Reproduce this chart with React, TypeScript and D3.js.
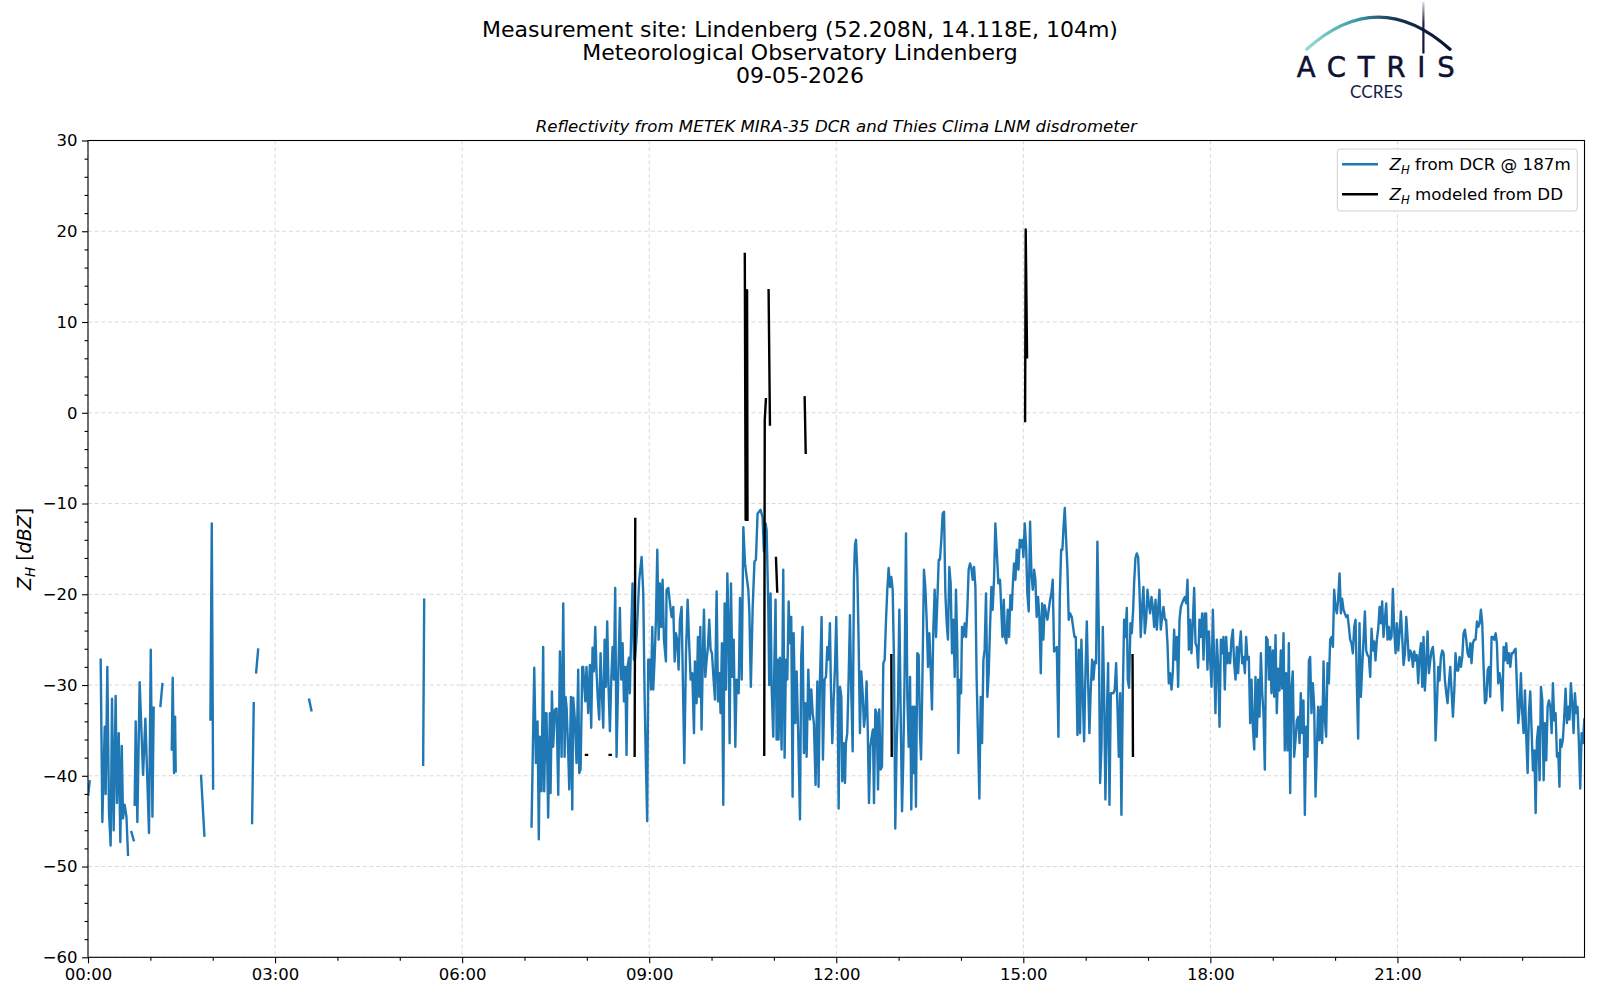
import React, { useEffect, useRef } from 'react';
import * as d3 from 'd3';

type Pt = [number, number | null];

// [minutes after 00:00, dBZ]; a null value breaks the line
const dcrNight: Pt[] = [
  [0.2, -42.1], [1.6, -40.6], [2, null],
  [12.2, -27.2], [13.8, -45.1], [16.1, -34.6], [17.0, -42.0], [18.6, -28.0], [20.2, -44.0], [21.8, -47.7],
  [23.1, -31.5], [24.7, -46.0], [26.6, -31.2], [27.9, -43.0], [29.6, -35.3], [31.1, -47.3], [32.5, -36.7],
  [33.7, -44.7], [35.3, -43.2], [37.0, -44.5], [38.5, -48.7], [39, null],
  [41.8, -46.2], [44.0, -47.1], [44.5, null],
  [44.9, -43.2], [45.9, -34.0], [47.5, -45.1], [49.7, -29.7], [53.0, -39.9], [55.2, -33.7], [58.7, -46.3],
  [60.4, -26.1], [62.0, -44.5], [63.2, -32.5], [64, null],
  [69.7, -32.3], [71.6, -29.9], [72, null],
  [80.6, -37.1], [81.5, -29.2], [82.8, -39.7], [83.8, -33.5], [84.4, -39.5], [85, null],
  [108.8, -40.0], [112.0, -46.6], [113, null],
  [117.8, -33.8], [119.1, -12.2], [120.4, -41.4], [121, null],
  [157.9, -45.2], [159.5, -32.0], [160, null],
  [161.8, -28.6], [163.7, -26.1], [164, null],
  [212.8, -31.6], [215.0, -32.8], [216, null],
  [322.5, -38.8], [323.5, -20.6], [324, null],
];

const dcrMorning: Pt[] = [
  [426.8, -45.6], [429.4, -28.1], [431.0, -38.6], [432.6, -34.0], [433.8, -47.0], [434.8, -35.7], [436.4, -41.7],
  [438.0, -25.8], [439.0, -41.7], [440.3, -33.1], [441.2, -33.1], [442.8, -44.6], [444.4, -33.1], [445.1, -41.9],
  [446.4, -30.7], [447.6, -36.8], [449.3, -32.7], [450.9, -32.6], [452.5, -42.1], [454.1, -26.3], [455.7, -37.9],
  [457.3, -21.0], [458.6, -37.9], [459.5, -31.3], [460.5, -32.4], [462.1, -37.5], [463.1, -41.5], [464.7, -31.3],
  [466.0, -43.7], [466.9, -31.4], [468.5, -33.8], [470.1, -38.6], [471.7, -28.3], [472.7, -39.7], [474.0, -39.3],
  [475.6, -28.0], [476.5, -28.0], [478.5, -31.8], [479.7, -28.0], [481.3, -33.1], [482.9, -27.8], [484.2, -34.7],
  [485.5, -25.9], [486.8, -28.5], [488.1, -23.6], [489.4, -28.7], [490.6, -31.6], [491.9, -33.8], [493.2, -26.5],
  [494.5, -30.9], [495.8, -34.7], [497.1, -25.0], [498.3, -30.2], [499.6, -23.0], [500.9, -30.2], [502.2, -35.1],
  [503.5, -29.4], [504.8, -25.8], [506.0, -29.4], [507.3, -19.3], [508.6, -37.9], [510.2, -29.1], [511.8, -21.5],
  [513.1, -29.4], [514.4, -25.4], [515.7, -31.8], [517.0, -28.0], [518.2, -37.7], [519.2, -28.0], [520.5, -27.0],
  [521.4, -30.9], [522.7, -24.1], [524.0, -18.8], [525.3, -27.2], [526.3, -27.2], [527.9, -24.7], [529.2, -21.4],
  [530.4, -18.4], [532.7, -15.9], [534.3, -19.9], [535.6, -31.3], [536.9, -39.0], [538.1, -45.0], [539.1, -27.2],
  [540.7, -27.2], [541.7, -30.5], [543.0, -23.6], [543.9, -30.5], [545.2, -27.2], [546.5, -22.8], [547.8, -15.1],
  [549.1, -25.0], [550.3, -18.8], [551.6, -23.6], [552.9, -18.4], [554.2, -25.0], [556.1, -27.4], [556.7, -19.5],
  [558.4, -19.3], [560.0, -21.0], [561.6, -22.5], [563.2, -21.4], [564.5, -27.4], [565.7, -24.3], [567.0, -25.0],
  [568.3, -28.3], [569.6, -22.8], [571.2, -21.4], [572.5, -30.2], [573.8, -38.6], [575.4, -26.5], [577.0, -20.6],
  [578.6, -25.8], [579.9, -29.4], [581.5, -28.7], [583.1, -35.3], [584.0, -27.4], [585.6, -32.0], [586.9, -24.7],
  [588.2, -31.3], [589.2, -23.6], [590.4, -34.9], [591.7, -26.5], [592.7, -21.7], [594.0, -29.1], [595.3, -27.2],
  [596.5, -25.8], [597.8, -22.8], [599.1, -26.1], [600.4, -26.5], [602.0, -29.4], [603.3, -31.6], [604.9, -19.7],
  [606.2, -31.8], [607.5, -28.7], [608.7, -33.1], [610.0, -25.4], [611.3, -43.2], [612.6, -21.0], [613.9, -30.5],
  [615.2, -17.7], [616.4, -23.6], [617.4, -36.4], [618.7, -18.8], [620.0, -29.1], [621.3, -25.0], [622.9, -36.8],
  [624.1, -29.4], [626.1, -30.9], [627.4, -20.4], [629.0, -29.4], [630.6, -12.6], [632.2, -16.6], [633.8, -18.1],
  [635.4, -19.5], [636.4, -22.0], [637.8, -30.2], [639.6, -21.4], [641.3, -16.4], [642.7, -16.2], [644.3, -11.1],
];

const dcrMidday: Pt[] = [
  [647.2, -10.7], [649.1, -11.5], [650.4, -15.3], [652.0, -12.2], [653.0, -12.9], [654.6, -21.4], [655.5, -30.0],
  [656.8, -19.9], [657.8, -30.2], [659.4, -35.7], [660.4, -28.0], [661.6, -20.6], [662.6, -36.0], [663.6, -27.2],
  [664.5, -36.0], [665.8, -27.0], [667.4, -37.1], [669.0, -17.3], [670.3, -38.0], [671.6, -27.2], [672.9, -29.4],
  [674.2, -20.8], [675.4, -25.4], [676.7, -22.5], [678.0, -42.3], [679.0, -24.3], [680.6, -34.2], [681.9, -28.5],
  [683.5, -36.0], [685.1, -44.8], [686.3, -26.9], [687.6, -23.6], [688.9, -37.5], [690.2, -32.0], [691.5, -37.9],
  [693.1, -28.3], [694.7, -33.8], [696.0, -30.5], [697.3, -33.1], [698.5, -34.2], [700.1, -41.0], [701.8, -29.6],
  [703.0, -41.2], [704.3, -29.6], [705.9, -22.5], [707.2, -38.2], [708.8, -29.4], [710.1, -29.1], [711.4, -25.8],
  [712.7, -27.2], [713.9, -23.2], [714.9, -30.5], [716.2, -36.4], [717.5, -31.6], [718.8, -28.0], [720.0, -22.5],
  [721.3, -30.5], [722.3, -43.6], [723.6, -30.2], [724.9, -31.3], [725.8, -40.6], [727.1, -36.4], [728.4, -40.8],
  [729.3, -36.4], [730.6, -35.3], [731.9, -29.4], [733.2, -22.3], [734.5, -30.9], [735.8, -37.3], [737.0, -18.4],
  [738.0, -14.6], [739.0, -14.0], [740.3, -17.7], [741.5, -25.0], [742.8, -35.3], [744.1, -28.5], [745.4, -30.9],
  [746.7, -34.6], [748.0, -33.1], [749.2, -29.6], [750.2, -34.2], [751.5, -43.0], [752.8, -36.8], [754.1, -35.7],
  [755.3, -34.9], [756.3, -43.0], [757.6, -32.7], [758.9, -33.1], [760.2, -41.5], [761.4, -32.7], [762.7, -39.3],
  [764.0, -39.0], [765.3, -27.6], [766.6, -27.2], [767.9, -22.8], [769.1, -19.5], [770.4, -17.1], [771.7, -19.2],
  [773.0, -18.1], [774.3, -19.5], [775.6, -27.6], [776.8, -45.8], [778.1, -36.8], [779.4, -31.8], [780.7, -21.7],
  [782.0, -33.1], [783.3, -43.9], [784.5, -38.2], [785.8, -28.7], [787.1, -13.3], [788.4, -31.3], [789.7, -36.8],
  [791.0, -29.1], [792.2, -43.7], [793.5, -32.4], [794.5, -39.7], [795.5, -32.4], [796.7, -43.4], [798.0, -26.5],
  [799.3, -26.7], [800.6, -35.3], [801.6, -38.2], [802.8, -30.2], [804.4, -17.3], [805.7, -19.2], [807.0, -22.8],
  [808.3, -28.0], [809.6, -24.3], [810.9, -28.3], [812.1, -32.7], [813.4, -23.9], [814.7, -19.5], [816.0, -24.7],
  [817.3, -20.6], [818.6, -16.2], [819.8, -16.2], [821.1, -14.0], [822.4, -11.1], [823.7, -10.9], [825.0, -19.9],
  [826.3, -23.2], [827.5, -25.0], [828.8, -17.0], [830.1, -18.8], [831.4, -26.5], [832.7, -22.8], [834.0, -29.1],
  [835.2, -19.5], [836.5, -25.8], [837.5, -37.5], [838.8, -29.4], [840.1, -30.9], [841.0, -23.6], [842.3, -24.7],
  [843.6, -23.2], [844.9, -24.7], [846.2, -21.4], [847.4, -17.3], [848.7, -16.6], [850.0, -17.1], [851.3, -18.4],
  [852.6, -17.0], [853.9, -19.2], [855.1, -29.4], [856.4, -35.7], [857.7, -42.5], [859.0, -31.3], [860.3, -36.4],
  [861.6, -27.2], [862.8, -26.1], [864.1, -19.9], [865.4, -31.3], [866.7, -28.7], [868.0, -23.6], [869.3, -19.2],
  [870.5, -21.7], [871.8, -18.4], [873.1, -12.2], [874.4, -15.1], [876.0, -18.8], [877.6, -18.4],
];

const dcrAfternoon: Pt[] = [
  [879.9, -24.7], [881.2, -20.6], [882.4, -24.7], [883.7, -25.4], [885.0, -21.7], [886.3, -24.7], [887.6, -20.1],
  [888.9, -21.7], [889.8, -19.2], [891.1, -16.6], [892.4, -18.4], [893.7, -15.1], [895.3, -17.3], [896.6, -14.0],
  [897.8, -14.8], [899.1, -14.0], [900.1, -15.9], [901.4, -12.2], [902.7, -14.8], [903.9, -19.9], [905.2, -21.9],
  [906.5, -12.0], [907.8, -17.7], [909.1, -19.5], [910.4, -17.3], [911.6, -18.4], [912.9, -22.5], [914.2, -20.3],
  [915.5, -22.5], [916.8, -28.7], [918.1, -21.0], [919.3, -25.0], [920.6, -21.2], [921.9, -22.1], [923.2, -22.8],
  [924.5, -21.7], [925.8, -20.6], [927.0, -19.9], [928.3, -18.4], [929.6, -26.3], [930.9, -26.1], [932.2, -25.8],
  [933.8, -35.7], [935.1, -20.3], [936.4, -15.1], [937.6, -15.1], [938.9, -12.2], [939.9, -10.5], [941.2, -14.0],
  [942.4, -17.0], [943.7, -22.8], [945.0, -22.1], [946.6, -22.5], [947.9, -23.6], [949.2, -24.7], [950.5, -24.7],
  [952.1, -35.5], [953.4, -26.1], [954.6, -35.3], [955.9, -25.0], [957.2, -30.9], [958.5, -36.2], [959.8, -28.7],
  [961.1, -23.0], [962.3, -29.4], [963.6, -35.3], [964.9, -30.5], [966.2, -27.2], [967.5, -29.4], [968.8, -27.4],
  [970.0, -27.6], [971.3, -14.2], [972.6, -23.6], [973.9, -40.8], [975.2, -36.8], [976.5, -23.6], [977.7, -30.5],
  [979.0, -42.6], [980.3, -33.8], [981.6, -27.6], [982.9, -43.2], [984.2, -30.9], [985.4, -30.9], [986.7, -30.9],
  [988.0, -30.5], [989.3, -27.6], [990.6, -32.4], [991.9, -37.9], [993.2, -30.9], [994.4, -44.3], [995.7, -31.3],
  [997.0, -22.8], [998.3, -24.7], [999.6, -21.5], [1000.5, -29.4], [1001.8, -30.3], [1003.1, -23.2], [1004.4, -24.3],
  [1005.7, -21.7], [1006.6, -18.8], [1007.9, -16.0], [1009.2, -15.5], [1010.5, -15.9], [1011.8, -19.5], [1013.0, -24.7],
  [1014.3, -21.4], [1015.6, -19.2], [1016.9, -24.3], [1018.2, -22.8], [1019.5, -19.5], [1020.7, -21.0], [1022.0, -22.1],
  [1023.3, -20.3], [1024.6, -21.4], [1025.9, -23.6], [1027.2, -20.6], [1028.5, -23.9], [1029.7, -21.7], [1031.0, -19.5],
  [1032.3, -23.9], [1033.6, -22.5], [1034.9, -21.4], [1036.2, -22.8], [1037.4, -22.8], [1038.7, -25.4], [1040.0, -29.8],
  [1041.3, -28.7], [1042.6, -30.5], [1043.9, -28.5], [1045.1, -23.9], [1046.4, -27.2], [1047.7, -24.7], [1049.0, -30.2],
  [1050.3, -22.8], [1051.6, -21.4], [1052.8, -21.0], [1054.1, -20.6], [1055.4, -20.3], [1056.7, -21.0], [1058.0, -18.4],
  [1059.3, -26.1], [1060.5, -22.8], [1061.8, -26.5], [1063.1, -23.2], [1064.4, -19.3], [1065.7, -25.4], [1067.0, -25.8],
  [1068.2, -28.1], [1069.5, -22.8], [1070.8, -24.7], [1072.1, -22.1], [1073.4, -27.2], [1074.7, -22.1], [1075.9, -22.1],
  [1077.2, -28.3], [1078.5, -24.1], [1079.8, -27.2], [1081.1, -30.2], [1082.4, -21.7], [1083.6, -27.2], [1084.9, -33.1],
  [1086.2, -25.0], [1087.5, -28.0], [1088.8, -34.6], [1090.1, -25.0], [1091.3, -26.5], [1092.6, -24.7], [1093.9, -30.5],
  [1095.2, -24.7], [1096.5, -27.6], [1097.8, -26.5], [1099.0, -27.6], [1100.3, -25.0], [1101.6, -23.9], [1102.9, -27.6],
  [1104.2, -29.4], [1105.5, -25.8], [1106.7, -28.7], [1108.0, -25.8], [1109.3, -24.1], [1110.6, -27.6], [1111.9, -26.9],
  [1113.2, -28.7], [1114.4, -24.7], [1115.7, -27.2], [1117.0, -26.9], [1118.3, -34.2], [1119.6, -29.4], [1120.9, -34.6],
  [1122.2, -37.1], [1123.4, -29.1], [1124.7, -35.7], [1126.0, -29.4], [1127.3, -33.5], [1128.6, -26.5], [1129.9, -30.9],
  [1131.1, -33.1], [1132.4, -39.3], [1133.7, -24.7], [1135.0, -25.0], [1136.3, -29.4],
];

const dcrEvening: Pt[] = [
  [1137.5, -25.8], [1138.8, -30.9], [1140.1, -26.2], [1141.4, -31.3], [1142.7, -24.5], [1143.9, -33.1], [1145.2, -28.2],
  [1146.5, -30.6], [1147.8, -26.2], [1149.1, -30.4], [1150.4, -24.3], [1151.6, -37.2], [1152.9, -28.7], [1154.2, -37.2],
  [1155.5, -25.4], [1156.8, -41.9], [1158.1, -30.2], [1159.3, -28.5], [1160.6, -37.9], [1161.9, -36.1], [1163.2, -33.9],
  [1164.5, -33.5], [1165.8, -36.4], [1167.0, -30.9], [1168.3, -35.3], [1169.6, -31.7], [1170.9, -44.3], [1172.2, -34.6],
  [1173.5, -37.9], [1174.8, -27.3], [1176.0, -26.9], [1177.3, -33.1], [1178.6, -29.8], [1179.9, -32.4], [1181.2, -42.3],
  [1182.5, -36.8], [1183.7, -32.4], [1185.0, -36.1], [1186.3, -32.4], [1187.6, -36.4], [1188.9, -27.4], [1190.2, -33.9],
  [1191.4, -35.7], [1192.7, -27.6], [1194.0, -29.8], [1195.3, -25.0], [1196.6, -24.7], [1197.9, -25.8], [1199.1, -19.5],
  [1200.4, -21.4], [1201.7, -22.1], [1203.0, -20.5], [1204.3, -17.7], [1205.6, -22.1], [1206.8, -20.5], [1208.1, -21.7],
  [1209.4, -22.1], [1210.7, -22.5], [1212.0, -22.3], [1213.3, -23.6], [1214.5, -25.0], [1215.8, -25.4], [1217.1, -26.5],
  [1218.4, -23.6], [1219.7, -22.8], [1221.0, -30.2], [1222.2, -35.9], [1223.5, -23.2], [1224.8, -31.3], [1226.1, -28.0],
  [1227.4, -25.0], [1228.7, -21.9], [1229.9, -26.2], [1231.2, -26.7], [1232.5, -26.9], [1233.8, -29.1], [1235.1, -23.8],
  [1236.4, -26.2], [1237.6, -25.2], [1238.9, -27.3], [1240.2, -25.0], [1241.5, -23.8], [1242.8, -21.4], [1244.1, -23.2],
  [1245.3, -20.8], [1246.6, -24.7], [1247.9, -22.8], [1249.2, -21.0], [1250.5, -25.0], [1251.8, -23.6], [1253.0, -25.0],
  [1254.3, -24.7], [1255.6, -19.4], [1256.9, -23.9], [1258.2, -26.5], [1259.5, -23.2], [1260.8, -26.2], [1262.0, -24.3],
  [1263.3, -21.9], [1264.6, -24.7], [1265.9, -27.8], [1267.2, -26.5], [1268.5, -22.5], [1269.7, -24.7], [1271.0, -27.3],
  [1272.3, -26.2], [1273.6, -26.5], [1274.9, -28.0], [1276.2, -26.3], [1277.4, -27.3], [1278.7, -26.7], [1280.0, -29.8],
  [1281.3, -26.7], [1282.6, -25.4], [1283.9, -30.2], [1285.1, -24.7], [1286.4, -30.6], [1287.7, -27.6], [1289.0, -24.1],
  [1290.3, -28.7], [1291.6, -27.3], [1292.8, -26.2], [1294.1, -25.8], [1295.4, -27.6], [1296.7, -36.1], [1298.0, -32.0],
  [1299.3, -28.0], [1300.5, -29.5], [1301.8, -26.9], [1303.1, -26.2], [1304.4, -26.5], [1305.7, -29.5], [1307.0, -30.9],
  [1308.2, -32.0], [1309.5, -29.8], [1310.8, -28.0], [1312.1, -30.7], [1313.4, -33.5], [1314.7, -30.6], [1315.9, -26.5],
  [1317.2, -28.4], [1318.5, -28.4], [1319.8, -26.9], [1321.1, -28.0], [1322.4, -26.9], [1323.6, -24.3], [1324.9, -23.9],
  [1326.2, -25.0], [1327.5, -26.5], [1328.8, -26.9], [1330.1, -25.4], [1331.3, -27.6], [1332.6, -25.4], [1333.9, -25.0],
  [1335.2, -25.0], [1336.5, -23.0], [1337.8, -23.6], [1339.1, -23.2], [1340.3, -21.7], [1341.6, -23.2], [1342.9, -28.0],
  [1344.2, -32.0], [1345.5, -31.7], [1346.8, -28.4], [1348.0, -28.0], [1349.3, -31.3], [1350.6, -24.7], [1351.9, -24.7],
  [1353.2, -25.0], [1354.5, -24.3], [1355.7, -25.4], [1357.0, -29.8], [1358.3, -28.7], [1359.6, -29.8], [1360.9, -32.8],
  [1362.2, -25.8], [1363.4, -27.3], [1364.7, -25.4], [1366.0, -27.6], [1367.3, -26.5], [1368.6, -28.0], [1369.9, -26.5],
  [1371.1, -26.5], [1372.4, -26.2], [1373.7, -26.0], [1375.0, -30.2], [1376.3, -34.2], [1377.6, -32.4], [1378.8, -28.7],
  [1380.1, -33.1], [1381.4, -35.3], [1382.7, -30.6], [1384.0, -35.9], [1385.3, -39.7], [1386.5, -33.1], [1387.8, -30.7],
  [1389.1, -35.0], [1390.4, -39.4], [1391.7, -37.2], [1393.0, -44.1], [1394.2, -36.1], [1395.5, -34.6], [1396.8, -40.5],
  [1398.1, -30.2], [1399.4, -31.7], [1400.7, -40.5], [1401.9, -34.2], [1403.2, -38.3], [1404.5, -32.4], [1405.8, -31.7],
  [1407.1, -32.4], [1408.4, -35.3], [1409.6, -29.8], [1410.9, -33.9], [1412.2, -33.1], [1413.5, -37.9], [1414.8, -37.5],
  [1415.9, -41.2], [1416.7, -36.0], [1417.9, -36.8], [1419.2, -36.0], [1420.5, -33.5], [1421.8, -30.4], [1423.1, -34.2],
  [1424.4, -32.4], [1425.6, -33.8], [1426.9, -29.8], [1428.2, -32.0], [1429.5, -35.3], [1430.8, -30.9], [1432.1, -33.1],
  [1433.3, -32.4], [1434.6, -36.4], [1435.9, -41.4], [1437.2, -35.3], [1438.5, -36.4], [1439.8, -33.8],
];

// reflectivity modeled from the disdrometer drop size distribution
const ddModel: Pt[] = [
  [479.2, -37.7], [480.2, -37.7], [481, null],
  [502.0, -37.7], [503.0, -37.7], [504, null],
  [526.0, -37.8], [526.6, -11.7], [527, null],
  [632.0, 17.5], [632.8, -11.8], [634.2, 13.5], [634.6, -11.8], [635, null],
  [650.7, -37.7], [651.2, -0.8], [652.3, 1.5], [653, null],
  [654.9, 13.5], [656.2, -1.3], [657, null],
  [662.0, -16.0], [663.2, -19.7], [664, null],
  [689.6, 1.7], [690.6, -4.4], [691, null],
  [773.0, -26.7], [773.4, -37.8], [774, null],
  [901.7, -0.9], [902.3, 20.2], [903.6, 6.1], [904, null],
  [1005.1, -26.7], [1005.5, -37.8],
];

const yTicks = [30, 20, 10, 0, -10, -20, -30, -40, -50, -60];
const yMinor = d3.range(-58, 30, 2).filter(v => v % 10 !== 0);
const xTicks = [0, 180, 360, 540, 720, 900, 1080, 1260];
const xMinor = d3.range(60, 1440, 60).filter(m => m % 180 !== 0);

const titleLines = [
  'Measurement site: Lindenberg (52.208N, 14.118E, 104m)',
  'Meteorological Observatory Lindenberg',
  '09-05-2026',
];
const subtitle = 'Reflectivity from METEK MIRA-35 DCR and Thies Clima LNM disdrometer';
const legendItems = [
  { label: ' from DCR @ 187m', color: '#1f77b4' },
  { label: ' modeled from DD', color: '#000000' },
];

const FONT = '"DejaVu Sans", sans-serif';

const App: React.FC = () => {
  const svgRef = useRef<SVGSVGElement>(null);

  useEffect(() => {
    if (!svgRef.current) return;
    const svg = d3.select(svgRef.current);
    svg.selectAll('*').remove();

    const left = 88, right = 1584.5, top = 140.5, bottom = 957.3;
    const x = d3.scaleLinear().domain([0, 1440]).range([left, right]);
    const y = d3.scaleLinear().domain([-60, 30]).range([bottom, top]);

    const defs = svg.append('defs');
    defs.append('clipPath').attr('id', 'plot-clip')
      .append('rect').attr('x', left).attr('y', top).attr('width', right - left).attr('height', bottom - top);

    const arcGrad = defs.append('linearGradient').attr('id', 'arc-grad')
      .attr('x1', '0%').attr('x2', '100%').attr('y1', '0%').attr('y2', '0%');
    [['0%', '#9ad9d5'], ['35%', '#3a9aa6'], ['62%', '#173352'], ['100%', '#0b1030']].forEach(([o, c]) =>
      arcGrad.append('stop').attr('offset', o).attr('stop-color', c));
    const poleGrad = defs.append('linearGradient').attr('id', 'pole-grad')
      .attr('x1', '0%').attr('x2', '0%').attr('y1', '0%').attr('y2', '100%');
    [['0%', '#0b1030', 0.15], ['40%', '#0b1030', 0.9], ['100%', '#0b1030', 1]].forEach(([o, c, a]) =>
      poleGrad.append('stop').attr('offset', o as string).attr('stop-color', c as string).attr('stop-opacity', a as number));

    // grid
    const grid = svg.append('g')
      .attr('stroke', '#cfcfcf').attr('stroke-width', 0.8).attr('stroke-dasharray', '4,2.7');
    grid.selectAll('line.gy').data(yTicks).join('line').attr('class', 'gy')
      .attr('x1', left).attr('x2', right).attr('y1', d => y(d)).attr('y2', d => y(d));
    grid.selectAll('line.gx').data(xTicks).join('line').attr('class', 'gx')
      .attr('y1', top).attr('y2', bottom).attr('x1', d => x(d)).attr('x2', d => x(d));

    // series
    const line = d3.line<Pt>()
      .defined(d => d[1] !== null)
      .x(d => x(d[0]))
      .y(d => y(d[1] as number));

    const plot = svg.append('g').attr('clip-path', 'url(#plot-clip)');
    const dcr = [...dcrNight, ...dcrMorning, ...dcrMidday, ...dcrAfternoon, ...dcrEvening];
    plot.append('path').datum(dcr)
      .attr('d', line).attr('fill', 'none').attr('stroke', '#1f77b4')
      .attr('stroke-width', 2.4).attr('stroke-linejoin', 'round').attr('stroke-linecap', 'square');
    plot.append('path').datum(ddModel)
      .attr('d', line).attr('fill', 'none').attr('stroke', '#000')
      .attr('stroke-width', 2.4).attr('stroke-linejoin', 'round').attr('stroke-linecap', 'square');

    // axes
    const styleAxis = (g: d3.Selection<SVGGElement, unknown, null, undefined>) => {
      g.select('.domain').remove();
      g.attr('font-family', FONT).attr('font-size', 16.5);
      g.selectAll('.tick line').attr('stroke', '#000').attr('stroke-width', 1.1);
      g.selectAll('.tick text').attr('fill', '#000');
    };

    svg.append('g').attr('transform', `translate(${left},0)`)
      .call(d3.axisLeft(y).tickValues(yTicks).tickSize(6).tickPadding(4.5).tickFormat(d3.format('d')))
      .call(styleAxis);
    svg.append('g').attr('transform', `translate(${left},0)`)
      .call(d3.axisLeft(y).tickValues(yMinor).tickSize(3.5).tickFormat(() => ''))
      .call(styleAxis);

    const fmt2 = d3.format('02d');
    svg.append('g').attr('transform', `translate(0,${bottom})`)
      .call(d3.axisBottom(x).tickValues(xTicks).tickSize(6).tickPadding(4.5)
        .tickFormat(m => `${fmt2(Math.floor(+m / 60))}:${fmt2(+m % 60)}`))
      .call(styleAxis);
    svg.append('g').attr('transform', `translate(0,${bottom})`)
      .call(d3.axisBottom(x).tickValues(xMinor).tickSize(3.5).tickFormat(() => ''))
      .call(styleAxis);

    svg.append('rect')
      .attr('x', left).attr('y', top).attr('width', right - left).attr('height', bottom - top)
      .attr('fill', 'none').attr('stroke', '#000').attr('stroke-width', 1.1);

    // y label: Z_H [dBZ]
    const ylab = svg.append('text')
      .attr('transform', `translate(31,${(top + bottom) / 2}) rotate(-90)`)
      .attr('text-anchor', 'middle').attr('font-family', FONT).attr('font-size', 19).attr('fill', '#000');
    ylab.append('tspan').attr('font-style', 'italic').text('Z');
    ylab.append('tspan').attr('font-style', 'italic').attr('font-size', 13.3).attr('dy', 3.8).text('H');
    ylab.append('tspan').attr('dy', -3.8).text(' [');
    ylab.append('tspan').attr('font-style', 'italic').text('dBZ');
    ylab.append('tspan').text(']');

    // titles
    svg.append('g').attr('font-family', FONT).attr('font-size', 22).attr('text-anchor', 'middle').attr('fill', '#000')
      .selectAll('text').data(titleLines).join('text')
      .attr('x', 800).attr('y', (_, i) => 36.5 + i * 23).text(d => d);
    svg.append('text')
      .attr('x', (left + right) / 2).attr('y', 131.5).attr('text-anchor', 'middle')
      .attr('font-family', FONT).attr('font-size', 16.6).attr('font-style', 'italic').attr('fill', '#000')
      .text(subtitle);

    // legend
    const lg = svg.append('g');
    lg.append('rect').attr('x', 1337.3).attr('y', 149).attr('width', 240).attr('height', 62)
      .attr('rx', 3).attr('fill', '#fff').attr('fill-opacity', 0.8)
      .attr('stroke', '#d0d0d0').attr('stroke-width', 1);
    legendItems.forEach((it, i) => {
      const ly = 164.3 + i * 30;
      lg.append('line').attr('x1', 1342).attr('x2', 1378).attr('y1', ly).attr('y2', ly)
        .attr('stroke', it.color).attr('stroke-width', 2.4);
      const t = lg.append('text').attr('x', 1389.5).attr('y', ly + 6)
        .attr('font-family', FONT).attr('font-size', 16.7).attr('fill', '#000');
      t.append('tspan').attr('font-style', 'italic').text('Z');
      t.append('tspan').attr('font-style', 'italic').attr('font-size', 11.7).attr('dy', 3.3).text('H');
      t.append('tspan').attr('dy', -3.3).text(it.label);
    });

    // ACTRIS CCRES logo
    const logo = svg.append('g');
    logo.append('path')
      .attr('d', 'M1306.7,49.3 Q1378,-15 1450,49.3')
      .attr('fill', 'none').attr('stroke', 'url(#arc-grad)').attr('stroke-width', 3.2).attr('stroke-linecap', 'round');
    logo.append('rect').attr('x', 1422.3).attr('y', 2).attr('width', 2.2).attr('height', 51.5)
      .attr('fill', 'url(#pole-grad)');
    logo.append('text')
      .attr('x', 1296.7).attr('y', 77.3).attr('textLength', 158).attr('lengthAdjust', 'spacing')
      .attr('font-family', FONT).attr('font-size', 27.5).attr('fill', '#0d1233')
      .attr('stroke', '#0d1233').attr('stroke-width', 0.5)
      .text('ACTRIS');
    logo.append('text')
      .attr('x', 1350).attr('y', 98.3).attr('textLength', 52.7).attr('lengthAdjust', 'spacingAndGlyphs')
      .attr('font-family', 'Lato, "DejaVu Sans", sans-serif').attr('font-size', 17).attr('fill', '#161b45')
      .text('CCRES');
  }, []);

  return (
    <svg
      ref={svgRef}
      width={1600}
      height={1000}
      style={{ position: 'absolute', left: 0, top: 0, background: '#fff' }}
    />
  );
};

export default App;
